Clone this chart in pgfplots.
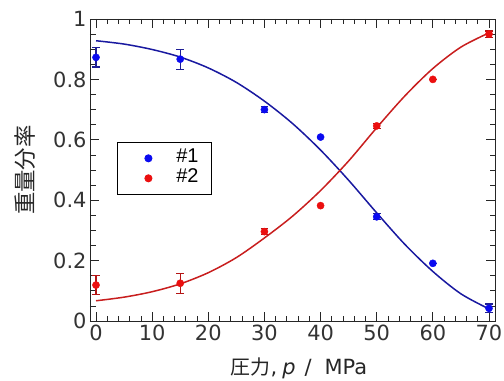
\documentclass[border=0pt]{standalone}
\usepackage{pgfplots}
\pgfplotsset{compat=1.18}
\usepackage{fontspec}
\setmainfont{DejaVu Sans}
\newfontfamily\cjk{Noto Sans CJK JP}
\newfontfamily\legfont{Liberation Sans}
\definecolor{bluept}{RGB}{10,10,240}
\definecolor{blueline}{RGB}{25,25,160}
\definecolor{bluebar}{RGB}{30,30,150}
\definecolor{redpt}{RGB}{235,15,15}
\definecolor{redline}{RGB}{200,30,30}
\definecolor{redbar}{RGB}{180,20,20}
\begin{document}
\begin{tikzpicture}[x=1bp,y=1bp]
\path[use as bounding box] (-90,-59) rectangle (414,321);
\begin{axis}[
  at={(0,0)}, anchor=south west,
  width=405bp, height=302bp, scale only axis,
  xmin=-1.07, xmax=71.07, ymin=0, ymax=1,
  xtick={0,10,20,30,40,50,60,70},
  ytick={0,0.2,0.4,0.6,0.8,1},
  minor x tick num=4, minor y tick num=3,
  tick align=inside,
  major tick length=9bp, minor tick length=5.5bp,
  axis line style={black!85, line width=0.9bp},
  every tick/.style={black!85, line width=0.8bp},
  tick label style={font=\fontsize{21}{24}\selectfont, text=black!80},
  xticklabel style={/pgf/number format/.cd, fixed, assume math mode=true},
  yticklabel style={/pgf/number format/.cd, fixed, precision=1, assume math mode=true},
  label style={text=black!85},
  xlabel={{\cjk\fontsize{20}{24}\selectfont 圧力}{\fontsize{21}{24}\selectfont,\hspace{5bp}{\itshape p}\hspace{9bp}/\hspace{13bp}MPa}},
  ylabel={{\cjk\fontsize{22.5}{24}\selectfont 重量分率}},
  xlabel style={at={(axis description cs:0.516,-0.156)}, anchor=center},
  ylabel style={at={(axis description cs:-0.16,0.5)}, anchor=center},
  legend style={at={(axis description cs:0.0667,0.593)}, anchor=north west,
    draw=black, line width=0.8bp, font=\legfont\fontsize{20}{20}\selectfont,
    inner xsep=0bp, inner ysep=6bp, column sep=0bp,
    nodes={text height=14bp, text depth=6bp, inner ysep=0bp}},
  legend image code/.code={\path[draw=none,fill=none] (0bp,0bp) -- (57bp,0bp);
    \draw[#1] plot coordinates {(31bp,0bp)};},
  legend cell align=left,
]
\addplot[blueline, line width=1.5bp, smooth, forget plot] coordinates {
 (0,0.928) (5,0.917) (10,0.899) (15,0.874) (20,0.838) (25,0.790) (30,0.728)
 (35,0.654) (40,0.566) (45,0.466) (50,0.358) (55,0.254) (60,0.164) (65,0.090) (70,0.040)};
\addplot[redline, line width=1.5bp, smooth, forget plot] coordinates {
 (0,0.067) (5,0.079) (10,0.097) (15,0.123) (20,0.160) (25,0.210) (30,0.275)
 (35,0.347) (40,0.432) (45,0.530) (50,0.640) (55,0.745) (60,0.836) (65,0.907) (70,0.954)};
\addplot[only marks, mark=*, mark size=3.6bp, color=bluept,
  error bars/.cd, y dir=both, y explicit,
  error bar style={color=bluebar, line width=1.2bp},
  error mark options={rotate=90, mark size=3.8bp, line width=1.2bp, color=bluebar}]
 coordinates {
 (0,0.873) +- (0,0.032)
 (15,0.867) +- (0,0.033)
 (30,0.700) +- (0,0.010)
 (40,0.609) +- (0,0)
 (50,0.345) +- (0,0.010)
 (60,0.191) +- (0,0)
 (70,0.042) +- (0,0.014)};
\addlegendentry{\#1\hspace*{11bp}}
\addplot[only marks, mark=*, mark size=3.6bp, color=redpt,
  error bars/.cd, y dir=both, y explicit,
  error bar style={color=redbar, line width=1.2bp},
  error mark options={rotate=90, mark size=3.8bp, line width=1.2bp, color=redbar}]
 coordinates {
 (0,0.119) +- (0,0.031)
 (15,0.125) +- (0,0.033)
 (30,0.296) +- (0,0.010)
 (40,0.382) +- (0,0)
 (50,0.646) +- (0,0.008)
 (60,0.800) +- (0,0)
 (70,0.950) +- (0,0.010)};
\addlegendentry{\#2\hspace*{11bp}}
\end{axis}
\end{tikzpicture}
\end{document}
